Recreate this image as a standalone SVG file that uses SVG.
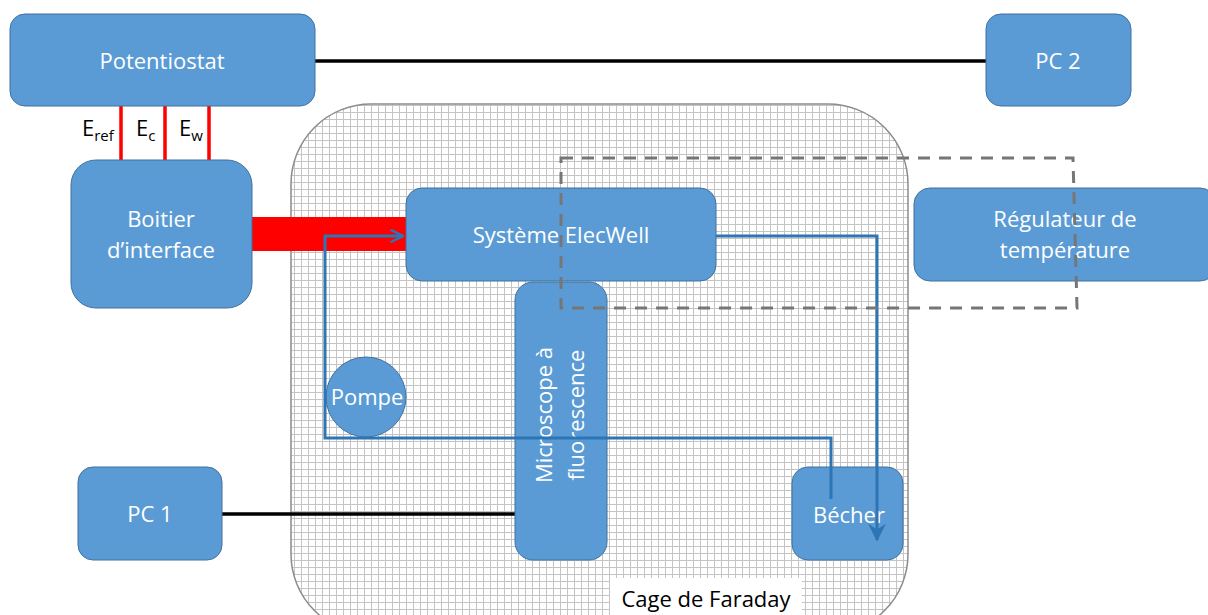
<svg xmlns="http://www.w3.org/2000/svg" width="1208" height="615" viewBox="0 0 1208 615">
<defs>
<pattern id="grid" x="0" y="0" width="7" height="7" patternUnits="userSpaceOnUse">
<rect width="7" height="7" fill="#ffffff"/>
<path d="M0,0.5 H7 M0.5,0 V7" stroke="#c4c4c4" stroke-width="1" fill="none" shape-rendering="crispEdges"/>
</pattern>
<marker id="openArrow" viewBox="0 0 12 12" refX="11" refY="6" markerWidth="5" markerHeight="5" markerUnits="strokeWidth" orient="auto">
<path d="M1,1 L11,6 L1,11" fill="none" stroke="#2e75b6" stroke-width="2"/>
</marker>
<marker id="stealth" viewBox="0 0 12 12" refX="11" refY="6" markerWidth="6" markerHeight="6" markerUnits="strokeWidth" orient="auto">
<path d="M0,0 L12,6 L0,12 L4,6 Z" fill="#2e75b6"/>
</marker>
<style>
.box{fill:#5b9bd5;stroke:#41719c;stroke-width:1}
.lbl{font-family:"Open Sans","Noto Sans","Liberation Sans",sans-serif;font-size:22px;fill:#ffffff;text-anchor:middle}
.blk{font-family:"Open Sans","Noto Sans","Liberation Sans",sans-serif;fill:#000000}
.red{stroke:#ff0000;stroke-width:3.5;fill:none}
.flow{stroke:#2e75b6;stroke-width:3;fill:none}
.wire{stroke:#000000;stroke-width:3.5;fill:none}
</style>
</defs>
<rect width="1208" height="615" fill="#ffffff"/>

<g id="cage">
<rect x="291" y="104" width="617" height="530" rx="80" ry="80" fill="url(#grid)" stroke="#8c8c8c" stroke-width="1.5"/>
<rect x="610" y="578" width="192" height="40" fill="#ffffff"/>
<text class="blk" x="706" y="607" font-size="22" text-anchor="middle">Cage de Faraday</text>
</g>

<g id="connectors-back">
<path class="wire" d="M315,61 H986"/>
<path class="wire" d="M222,514 H515"/>
<path class="red" d="M121,106 V160 M165,106 V160 M209,106 V160"/>
<rect x="252" y="217" width="154" height="34" fill="#ff0000"/>
</g>

<g id="potentiostat">
<rect class="box" x="10" y="14" width="305" height="92" rx="15"/>
<text class="lbl" x="162" y="69">Potentiostat</text>
</g>
<g id="pc2">
<rect class="box" x="986" y="14" width="145" height="92" rx="15"/>
<text class="lbl" x="1058" y="69">PC 2</text>
</g>
<g id="labels-e">
<text class="blk" x="82" y="136" font-size="22">E<tspan font-size="15" dy="5">ref</tspan></text>
<text class="blk" x="136" y="136" font-size="22">E<tspan font-size="15" dy="5">c</tspan></text>
<text class="blk" x="179" y="136" font-size="22">E<tspan font-size="15" dy="5">w</tspan></text>
</g>
<g id="boitier">
<rect class="box" x="71" y="160" width="181" height="148" rx="25"/>
<text class="lbl" x="161" y="227">Boitier</text>
<text class="lbl" x="161" y="258">d’interface</text>
</g>
<g id="elecwell">
<rect class="box" x="406" y="188" width="310" height="93" rx="16"/>
<text class="lbl" x="561" y="243">Système ElecWell</text>
</g>
<g id="regulateur">
<rect class="box" x="914" y="188" width="302" height="93" rx="16"/>
<text class="lbl" x="1065" y="227">Régulateur de</text>
<text class="lbl" x="1065" y="258">température</text>
</g>
<g id="pompe">
<circle class="box" cx="366" cy="397" r="40"/>
<text class="lbl" x="367" y="405">Pompe</text>
</g>
<g id="pc1">
<rect class="box" x="78" y="467" width="144" height="93" rx="15"/>
<text class="lbl" x="150" y="522">PC 1</text>
</g>
<g id="microscope">
<rect class="box" x="515" y="282" width="92" height="278" rx="18"/>
<text class="lbl" transform="translate(552,415) rotate(-90)">Microscope à</text>
<text class="lbl" transform="translate(584,415) rotate(-90)">fluorescence</text>
</g>
<g id="becher">
<rect class="box" x="792" y="467" width="111" height="93" rx="16"/>
<text class="lbl" x="849" y="523">Bécher</text>
</g>

<g id="connectors">
<path class="flow" d="M831,499 V438 H325 V236 H403" marker-end="url(#openArrow)"/>
<path class="flow" d="M716,236 H877 V540" marker-end="url(#stealth)"/>
<path d="M561,158 H1073 L1077,308 H561 Z" fill="none" stroke="#767676" stroke-width="3" stroke-dasharray="12,9"/>
</g>
</svg>
